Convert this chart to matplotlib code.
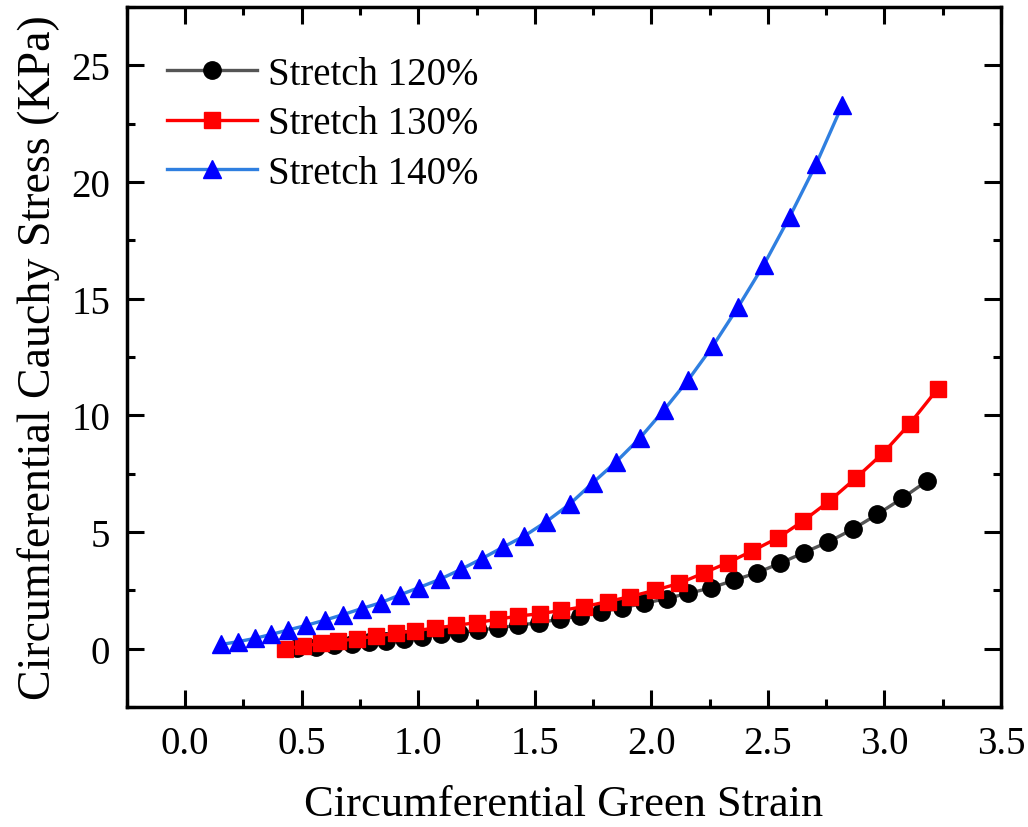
import matplotlib
matplotlib.use("Agg")
import matplotlib.pyplot as plt
from matplotlib.ticker import MultipleLocator

# ===================
# DATA
# ===================
labels = ["Stretch 120%", "Stretch 130%", "Stretch 140%"]

strain_120 = [0.48, 0.559, 0.638, 0.714, 0.788, 0.860, 0.939, 1.018, 1.097, 1.176,
              1.257, 1.343, 1.429, 1.517, 1.606, 1.692, 1.782, 1.875, 1.968, 2.065,
              2.157, 2.254, 2.354, 2.454, 2.552, 2.655, 2.760, 2.864, 2.970, 3.075, 3.183]
stress_120 = [0.02, 0.08, 0.14, 0.20, 0.27, 0.33, 0.40, 0.51, 0.61, 0.69,
              0.79, 0.90, 1.00, 1.12, 1.26, 1.40, 1.57, 1.76, 1.94, 2.15,
              2.37, 2.60, 2.93, 3.26, 3.66, 4.12, 4.58, 5.12, 5.76, 6.44, 7.19]

strain_130 = [0.427, 0.506, 0.581, 0.656, 0.738, 0.820, 0.903, 0.986, 1.070, 1.162,
              1.251, 1.341, 1.428, 1.523, 1.613, 1.710, 1.813, 1.907, 2.014, 2.119,
              2.224, 2.329, 2.433, 2.545, 2.652, 2.764, 2.877, 2.994, 3.108, 3.228]
stress_130 = [0.00, 0.11, 0.23, 0.33, 0.43, 0.54, 0.66, 0.77, 0.88, 1.00,
              1.12, 1.26, 1.40, 1.50, 1.64, 1.80, 2.02, 2.23, 2.50, 2.80,
              3.24, 3.69, 4.19, 4.76, 5.48, 6.33, 7.31, 8.38, 9.63, 11.13]

strain_140 = [0.154, 0.226, 0.298, 0.368, 0.441, 0.519, 0.598, 0.677, 0.757, 0.839,
              0.920, 1.003, 1.092, 1.183, 1.273, 1.365, 1.455, 1.550, 1.650, 1.750,
              1.850, 1.953, 2.054, 2.159, 2.265, 2.372, 2.483, 2.594, 2.708, 2.820]
stress_140 = [0.18, 0.30, 0.44, 0.61, 0.80, 1.00, 1.22, 1.46, 1.72, 1.97,
              2.30, 2.62, 2.97, 3.40, 3.86, 4.36, 4.83, 5.45, 6.20, 7.12,
              8.02, 9.05, 10.23, 11.53, 12.99, 14.64, 16.46, 18.52, 20.79, 23.32]

# ===================
# PLOTTING
# ===================
plt.rcParams['font.family'] = ['Liberation Serif', 'DejaVu Serif']

fig = plt.figure(figsize=(10.28, 8.28), dpi=100)
ax = fig.add_axes([0.1235, 0.1449, 0.8502, 0.8454])

ax.plot(strain_120, stress_120, color='#555555', lw=2.4, marker='o', ms=12.5,
        mfc='black', mec='black', label=labels[0])
ax.plot(strain_130, stress_130, color='#ff0000', lw=2.4, marker='s', ms=11.5,
        mfc='#ff0000', mec='#ff0000', label=labels[1])
ax.plot(strain_140, stress_140, color='#2f7fe0', lw=2.4, marker='^', ms=13.5,
        mfc='#0000ff', mec='#0000ff', label=labels[2])

ax.set_xlim(-0.25, 3.5)
ax.set_ylim(-2.5, 27.5)
ax.xaxis.set_major_locator(MultipleLocator(0.5))
ax.xaxis.set_minor_locator(MultipleLocator(0.25))
ax.yaxis.set_major_locator(MultipleLocator(5))
ax.yaxis.set_minor_locator(MultipleLocator(2.5))
ax.xaxis.set_major_formatter(plt.FuncFormatter(lambda v, p: f"{v:.1f}"))

ax.tick_params(which='both', direction='in', top=True, right=True, width=2.2)
ax.tick_params(which='major', length=12, labelsize=28)
ax.tick_params(axis='x', which='major', pad=13)
ax.tick_params(axis='y', which='major', pad=12)
ax.tick_params(which='minor', length=6)
for s in ax.spines.values():
    s.set_linewidth(2.5)

ax.set_xlabel("Circumferential Green Strain", fontsize=32, labelpad=16)
ax.set_ylabel("Circumferential Cauchy Stress (KPa)", fontsize=33, labelpad=8)

ax.legend(loc='upper left', frameon=False, fontsize=28, handlelength=2.3,
          handletextpad=0.3, labelspacing=0.32, borderpad=0, borderaxespad=0,
          bbox_to_anchor=(0.046, 0.93))

fig.savefig("out.png", dpi=100)
